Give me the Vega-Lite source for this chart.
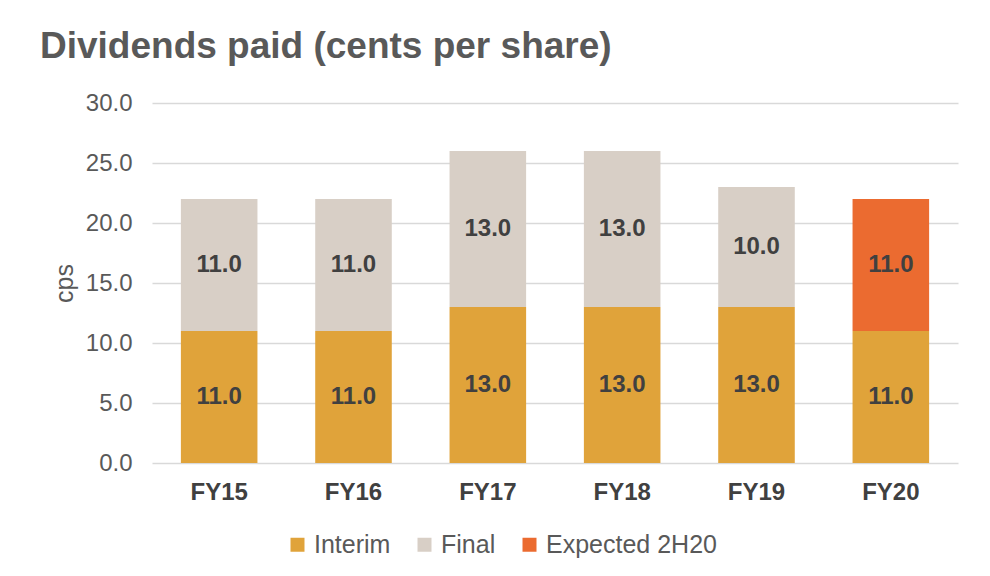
{
  "$schema": "https://vega.github.io/schema/vega-lite/v6.json",
  "autosize": {"type": "none"},
  "width": 806,
  "height": 360,
  "padding": {"left": 152, "top": 103, "right": 32, "bottom": 113},
  "background": "white",
  "title": {
    "text": "Dividends paid (cents per share)",
    "anchor": "start",
    "frame": "group",
    "dx": -112,
    "offset": 25,
    "font": "Liberation Sans",
    "fontSize": 37,
    "fontWeight": "bold",
    "color": "#595959"
  },
  "data": {
    "values": [
      {"year": "FY15", "type": "Interim", "value": 11.0, "order": 1},
      {"year": "FY15", "type": "Final", "value": 11.0, "order": 2},
      {"year": "FY16", "type": "Interim", "value": 11.0, "order": 1},
      {"year": "FY16", "type": "Final", "value": 11.0, "order": 2},
      {"year": "FY17", "type": "Interim", "value": 13.0, "order": 1},
      {"year": "FY17", "type": "Final", "value": 13.0, "order": 2},
      {"year": "FY18", "type": "Interim", "value": 13.0, "order": 1},
      {"year": "FY18", "type": "Final", "value": 13.0, "order": 2},
      {"year": "FY19", "type": "Interim", "value": 13.0, "order": 1},
      {"year": "FY19", "type": "Final", "value": 10.0, "order": 2},
      {"year": "FY20", "type": "Interim", "value": 11.0, "order": 1},
      {"year": "FY20", "type": "Expected 2H20", "value": 11.0, "order": 2}
    ]
  },
  "transform": [
    {"stack": "value", "groupby": ["year"], "sort": [{"field": "order", "order": "ascending"}], "as": ["v0", "v1"]},
    {"calculate": "(datum.v0 + datum.v1) / 2", "as": "mid"}
  ],
  "encoding": {
    "x": {
      "field": "year",
      "type": "nominal",
      "scale": {"paddingInner": 0.43, "paddingOuter": 0.215},
      "axis": {
        "title": null,
        "labelAngle": 0,
        "domain": false,
        "ticks": false,
        "labelPadding": 17,
        "labelFont": "Liberation Sans",
        "labelFontSize": 24,
        "labelFontWeight": "bold",
        "labelColor": "#404040"
      }
    }
  },
  "layer": [
    {
      "mark": {"type": "bar"},
      "encoding": {
        "y": {
          "field": "v0",
          "type": "quantitative",
          "scale": {"domain": [0, 30]},
          "axis": {
            "title": "cps",
            "values": [0, 5, 10, 15, 20, 25, 30],
            "format": ".1f",
            "domain": false,
            "ticks": false,
            "grid": true,
            "gridColor": "#d9d9d9",
            "gridWidth": 1.5,
            "labelPadding": 20,
            "labelFont": "Liberation Sans",
            "labelFontSize": 24,
            "labelColor": "#595959",
            "titleFont": "Liberation Sans",
            "titleFontSize": 25,
            "titleFontWeight": "normal",
            "titleColor": "#595959",
            "titlePadding": 8
          }
        },
        "y2": {"field": "v1"},
        "color": {
          "field": "type",
          "type": "nominal",
          "scale": {
            "domain": ["Interim", "Final", "Expected 2H20"],
            "range": ["#E0A33A", "#D8CFC6", "#EB6B30"]
          },
          "legend": {
            "title": null,
            "orient": "none",
            "legendX": 133,
            "legendY": 429,
            "direction": "horizontal",
            "symbolType": "square",
            "symbolSize": 196,
            "symbolStrokeWidth": 0,
            "labelFont": "Liberation Sans",
            "labelFontSize": 25,
            "labelColor": "#595959",
            "labelLimit": 400,
            "columnPadding": 21,
            "labelOffset": 4
          }
        }
      }
    },
    {
      "mark": {
        "type": "text",
        "font": "Liberation Sans",
        "fontSize": 24,
        "fontWeight": "bold",
        "color": "#404040",
        "baseline": "middle"
      },
      "encoding": {
        "y": {"field": "mid", "type": "quantitative"},
        "text": {"field": "value", "type": "quantitative", "format": ".1f"}
      }
    }
  ],
  "config": {"view": {"stroke": null}}
}
